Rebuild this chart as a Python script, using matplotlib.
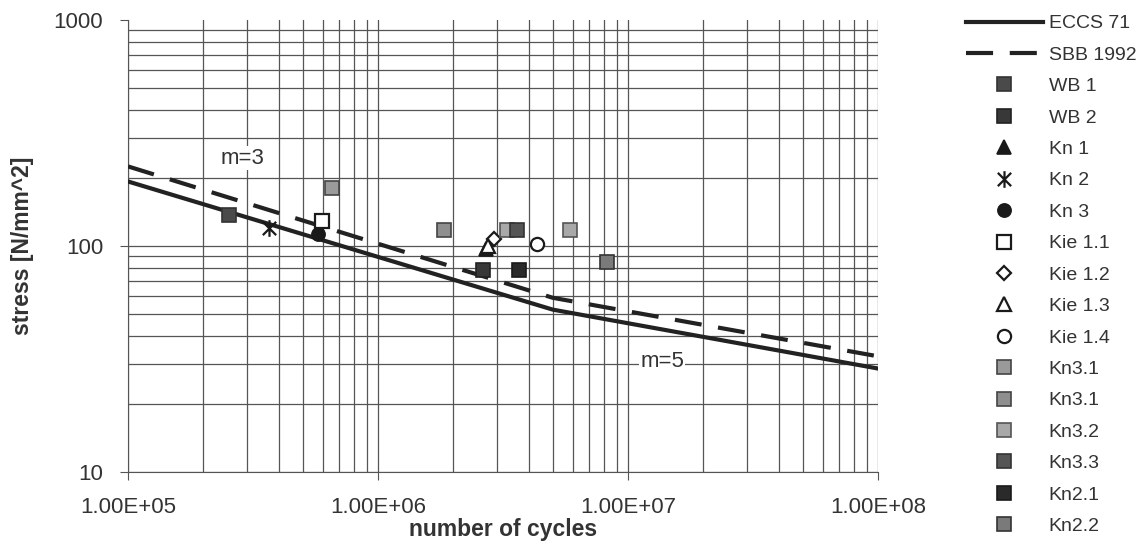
import matplotlib
matplotlib.use("Agg")
import matplotlib.pyplot as plt
from matplotlib.path import Path

plt.rcParams['font.family'] = ['Liberation Sans', 'DejaVu Sans']

# -- Data

# design curves
eccs_n = [1e5, 5e6, 1e8]
eccs_s = [193, 52.3, 28.7]
sbb_n = [1e5, 5e6, 1e8]
sbb_s = [225, 59, 32.5]

# test results
wb1_n, wb1_s = [2.54e5], [137]
wb2_n, wb2_s = [2.62e6], [78]
kn1_n, kn1_s = [2.70e6], [97]
kn2_n, kn2_s = [3.67e5], [120]
kn3_n, kn3_s = [5.74e5], [113]
kie11_n, kie11_s = [5.95e5], [129]
kie12_n, kie12_s = [2.91e6], [107]
kie13_n, kie13_s = [2.75e6], [100]
kie14_n, kie14_s = [4.31e6], [102]
kn31a_n, kn31a_s = [6.53e5], [180]
kn31b_n, kn31b_s = [1.84e6], [118]
kn32_n, kn32_s = [3.29e6, 5.86e6], [118, 118]
kn33_n, kn33_s = [3.61e6], [118]
kn21_n, kn21_s = [3.66e6], [78]
kn22_n, kn22_s = [8.27e6], [85]

x_ticks = [1e5, 1e6, 1e7, 1e8]
x_labels = ["1.00E+05", "1.00E+06", "1.00E+07", "1.00E+08"]
y_ticks = [10, 100, 1000]
y_labels = ["10", "100", "1000"]

# star marker: vertical bar plus an X
star = Path([(0, -1), (0, 1), (-0.8, -0.8), (0.8, 0.8), (-0.8, 0.8), (0.8, -0.8)],
            [Path.MOVETO, Path.LINETO] * 3)

# -- Figure

fig = plt.figure(figsize=(11.39, 5.47), dpi=100)
ax = fig.add_axes([128 / 1139, 1 - 472 / 547, 750 / 1139, 452 / 547])
ax.set_xscale("log")
ax.set_yscale("log")
ax.set_xlim(1e5, 1e8)
ax.set_ylim(10, 1000)

ax.plot(eccs_n, eccs_s, color="#222222", lw=3, label="ECCS 71", zorder=3)
ax.plot(sbb_n, sbb_s, color="#222222", lw=3, dashes=(6.5, 4), label="SBB 1992", zorder=3)

# each series: (n, s, label, marker style)
series = [
    (wb1_n, wb1_s, "WB 1", dict(marker="s", mfc="#4a4a4a", mec="#333333")),
    (wb2_n, wb2_s, "WB 2", dict(marker="s", mfc="#383838", mec="#222222")),
    (kn1_n, kn1_s, "Kn 1", dict(marker="^", mfc="#1a1a1a", mec="#1a1a1a")),
    (kn2_n, kn2_s, "Kn 2", dict(marker=star, mfc="none", mec="#1a1a1a", mew=1.6, ms=12)),
    (kn3_n, kn3_s, "Kn 3", dict(marker="o", mfc="#1a1a1a", mec="#1a1a1a")),
    (kie11_n, kie11_s, "Kie 1.1", dict(marker="s", mfc="white", mec="#1a1a1a", mew=1.6)),
    (kie12_n, kie12_s, "Kie 1.2", dict(marker="D", mfc="white", mec="#1a1a1a", mew=1.6, ms=7)),
    (kie13_n, kie13_s, "Kie 1.3", dict(marker="^", mfc="white", mec="#1a1a1a", mew=1.6)),
    (kie14_n, kie14_s, "Kie 1.4", dict(marker="o", mfc="white", mec="#1a1a1a", mew=1.6)),
    (kn31a_n, kn31a_s, "Kn3.1", dict(marker="s", mfc="#9a9a9a", mec="#444444")),
    (kn31b_n, kn31b_s, "Kn3.1", dict(marker="s", mfc="#8f8f8f", mec="#444444")),
    (kn32_n, kn32_s, "Kn3.2", dict(marker="s", mfc="#a8a8a8", mec="#555555")),
    (kn33_n, kn33_s, "Kn3.3", dict(marker="s", mfc="#555555", mec="#333333")),
    (kn21_n, kn21_s, "Kn2.1", dict(marker="s", mfc="#2a2a2a", mec="#1a1a1a")),
    (kn22_n, kn22_s, "Kn2.2", dict(marker="s", mfc="#7a7a7a", mec="#333333")),
]
for n, s, label, style in series:
    kw = dict(ms=9.5, mew=1.2, ls="none", zorder=4)
    kw.update(style)
    ax.plot(n, s, label=label, **kw)

# grid
ax.grid(True, which="both", color="#555555", lw=0.9)
ax.set_axisbelow(True)
for sp in ["top", "right"]:
    ax.spines[sp].set_visible(False)
for sp in ["left", "bottom"]:
    ax.spines[sp].set_color("#555555")

ax.set_xticks(x_ticks, labels=x_labels)
ax.set_yticks(y_ticks, labels=y_labels)
ax.tick_params(which="major", length=6, color="#555555", labelcolor="#333333", labelsize=16)
ax.tick_params(axis="x", pad=12)
ax.tick_params(axis="y", pad=12)
ax.tick_params(which="minor", length=0)
ax.yaxis.get_gridlines()[-1].set_visible(False)

ax.set_xlabel("number of cycles", fontsize=16.5, fontweight="bold", color="#333333", labelpad=0)
ax.set_ylabel("stress [N/mm^2]", fontsize=16.5, fontweight="bold", color="#333333", labelpad=14)

# slope annotations
ax.text(2.86e5, 245, "m=3", fontsize=16, color="#333333", ha="center", va="center",
        bbox=dict(fc="white", ec="none", pad=1), zorder=2)
ax.text(1.37e7, 30.7, "m=5", fontsize=16, color="#333333", ha="center", va="center",
        bbox=dict(fc="white", ec="none", pad=1), zorder=2)

fig.legend(loc="upper left", bbox_to_anchor=(958 / 1139, 1 - 7 / 547), frameon=False,
           fontsize=14, numpoints=1, handlelength=3.97, handletextpad=0.3,
           labelspacing=0.71, borderaxespad=0, labelcolor="#333333")

fig.savefig("out.png", dpi=100)
